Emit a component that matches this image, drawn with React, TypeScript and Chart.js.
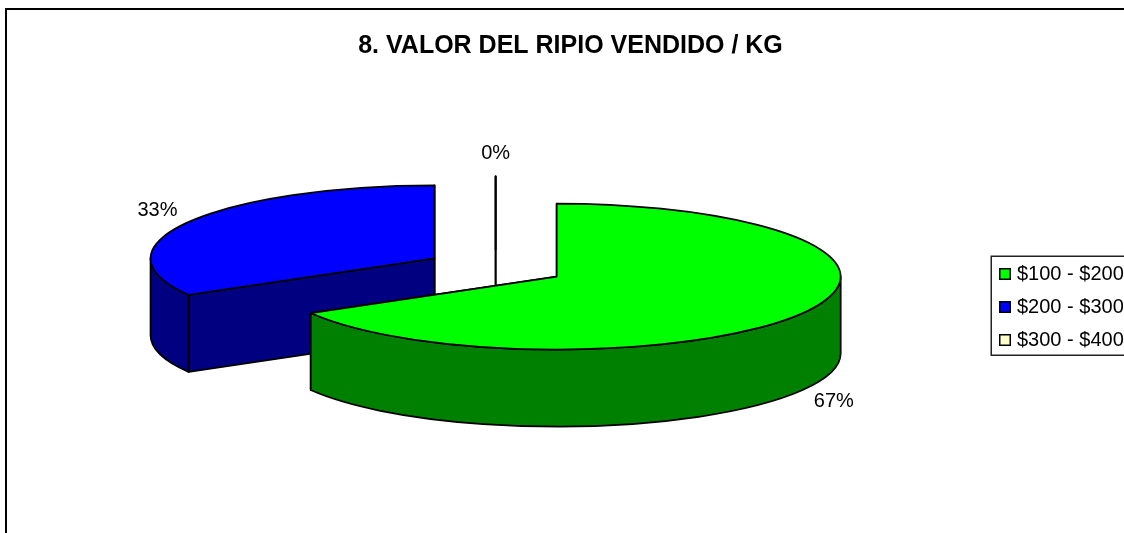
import React, { useEffect, useRef } from "react";
import { Chart, registerables } from "chart.js";

Chart.register(...registerables);

const titleText = "8. VALOR DEL RIPIO VENDIDO / KG";
const categories = ["$100 - $200", "$200 - $300", "$300 - $400"];
const responses = [2, 1, 0];
const topColors = ["#00ff00", "#0000ff", "#ffffcc"];
const sideColors = ["#008000", "#000080", "#808066"];

const FONT = "'Liberation Sans', Arial, sans-serif";
const SQUASH = 73 / 284;
const DEPTH = 77;
const EXPLODE = 70.5;
const RADIUS = 284;

function swatch(color: string) {
  const c = document.createElement("canvas");
  c.width = 12;
  c.height = 12;
  const g = c.getContext("2d")!;
  g.fillStyle = color;
  g.fillRect(0, 0, 12, 12);
  g.strokeStyle = "#000";
  g.lineWidth = 2;
  g.strokeRect(0.5, 0.5, 11, 11);
  return c;
}

const pie3d = {
  id: "pie3d",
  beforeDraw(chart: any) {
    const { ctx, width, height } = chart;
    ctx.save();
    ctx.fillStyle = "#fff";
    ctx.fillRect(0, 0, width, height);
    ctx.strokeStyle = "#000";
    ctx.lineWidth = 2;
    ctx.beginPath();
    ctx.moveTo(6, height);
    ctx.lineTo(6, 9);
    ctx.lineTo(width, 9);
    ctx.stroke();
    ctx.lineWidth = 1.5;
    ctx.strokeStyle = "#222";
    ctx.strokeRect(991.25, 256.25, 160, 99);
    ctx.restore();
  },
  afterLayout(chart: any) {
    // Legend sits partly past the canvas edge, as in the source picture.
    chart.legend.left = 990;
    chart.legend.top = 251;
    chart.titleBlock.left += 3;
    chart.titleBlock.right += 3;
  },
  beforeDatasetsDraw(chart: any) {
    const { ctx } = chart;
    const arcs: any[] = chart.getDatasetMeta(0).data;
    const values: number[] = chart.data.datasets[0].data;
    const total = values.reduce((a, b) => a + b, 0);

    const slices = arcs.map((arc, i) => {
      const mid = (arc.startAngle + arc.endAngle) / 2;
      const off = arc.options.offset;
      const cx = arc.x + Math.cos(mid) * off;
      const cy = arc.y + Math.sin(mid) * off * SQUASH;
      return { arc, i, mid, cx, cy, rx: arc.outerRadius, ry: arc.outerRadius * SQUASH };
    });

    ctx.save();
    ctx.lineWidth = 1.75;
    ctx.strokeStyle = "#000";
    ctx.lineJoin = "round";

    const paint = (fill: string) => {
      ctx.fillStyle = fill;
      ctx.fill();
      ctx.stroke();
    };

    [...slices]
      .sort((a, b) => a.cy - b.cy)
      .forEach(({ arc, i, cx, cy, rx, ry }) => {
        const side = sideColors[i];
        [arc.startAngle, arc.endAngle].forEach((a: number) => {
          const px = cx + rx * Math.cos(a);
          const py = cy + ry * Math.sin(a);
          ctx.beginPath();
          ctx.moveTo(cx, cy);
          ctx.lineTo(px, py);
          ctx.lineTo(px, py + DEPTH);
          ctx.lineTo(cx, cy + DEPTH);
          ctx.closePath();
          paint(side);
        });
        const a0 = Math.max(arc.startAngle, 0);
        const a1 = Math.min(arc.endAngle, Math.PI);
        if (a1 > a0) {
          ctx.beginPath();
          ctx.ellipse(cx, cy, rx, ry, 0, a0, a1);
          ctx.ellipse(cx, cy + DEPTH, rx, ry, 0, a1, a0, true);
          ctx.closePath();
          paint(side);
        }
        ctx.beginPath();
        ctx.moveTo(cx, cy);
        ctx.ellipse(cx, cy, rx, ry, 0, arc.startAngle, arc.endAngle);
        ctx.closePath();
        paint(arc.options.backgroundColor);
      });

    ctx.fillStyle = "#000";
    ctx.font = `20px ${FONT}`;
    ctx.textAlign = "center";
    ctx.textBaseline = "middle";
    slices.forEach(({ i, mid, cx, cy, rx, ry }) => {
      const c = Math.cos(mid);
      const s = Math.sin(mid);
      const x = cx + (rx + 36) * c;
      const y = cy + (ry + 23) * s + (s > 0.01 ? DEPTH : 0);
      ctx.fillText(`${Math.round((values[i] / total) * 100)}%`, x, y);
    });
    ctx.restore();
    return false;
  },
};

export default function App() {
  const ref = useRef<HTMLCanvasElement | null>(null);
  useEffect(() => {
    document.body.style.margin = "0";
    const chart = new Chart(ref.current!, {
      type: "pie",
      plugins: [pie3d],
      data: {
        labels: categories,
        datasets: [
          {
            data: responses,
            backgroundColor: topColors,
            offset: EXPLODE,
            borderWidth: 0,
          },
        ],
      },
      options: {
        animation: false,
        responsive: false,
        radius: RADIUS,
        layout: { padding: { left: 11, bottom: 59 } },
        plugins: {
          tooltip: { enabled: false },
          title: {
            display: true,
            text: titleText,
            color: "#000",
            font: { family: FONT, size: 25, weight: "bold" },
            padding: { top: 31, bottom: 0 },
          },
          legend: {
            position: "right",
            align: "start",
            labels: {
              color: "#000",
              font: { family: FONT, size: 20 },
              padding: 13,
              usePointStyle: true,
              pointStyleWidth: 4,
              boxHeight: 12,
              generateLabels: () =>
                categories.map((text, i) => ({
                  text,
                  index: i,
                  fillStyle: topColors[i],
                  pointStyle: swatch(topColors[i]),
                  lineWidth: 0,
                  hidden: false,
                })),
            },
          },
        },
      } as any,
    });
    return () => chart.destroy();
  }, []);
  return <canvas ref={ref} width={1124} height={533} style={{ display: "block" }} />;
}
